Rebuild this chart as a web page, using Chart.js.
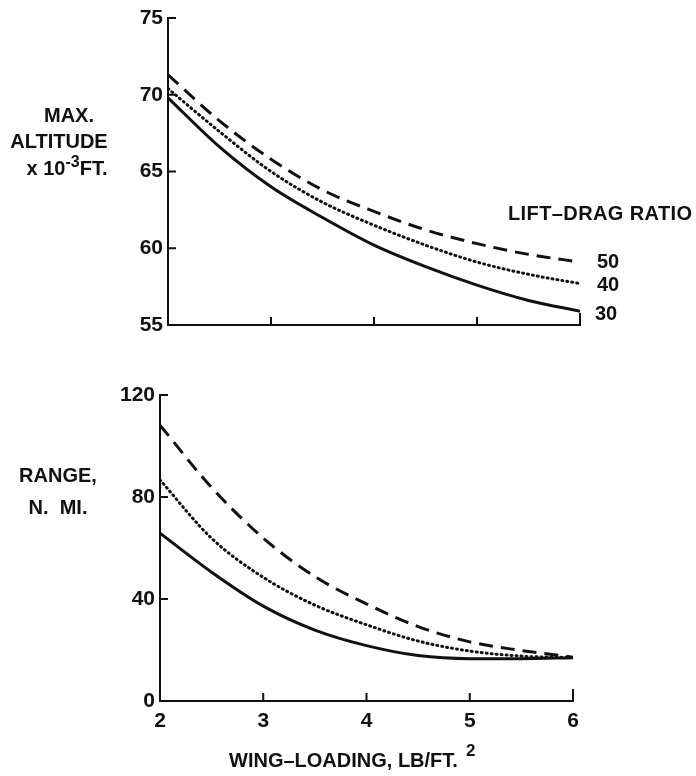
<!DOCTYPE html>
<html>
<head>
<meta charset="utf-8">
<script src="https://cdn.jsdelivr.net/npm/chart.js@4.4.1/dist/chart.umd.min.js"></script>
<style>
  body { margin: 0; background: #fff; }
  #page { position: relative; width: 696px; height: 776px; background: #fff; overflow: hidden; }
  canvas { position: absolute; left: 0; }
  .lbl { position: absolute; font-family: "Liberation Sans", Arial, sans-serif; font-weight: bold;
         font-size: 20px; color: #111; white-space: nowrap; line-height: 1; }
  .c { transform: translateX(-50%); text-align: center; }
  sup { font-size: 16px; position: relative; top: -4px; vertical-align: top; }
</style>
</head>
<body>
<div id="page">
  <canvas id="altChart" width="696" height="345" style="top:0"></canvas>
  <canvas id="rangeChart" width="696" height="431" style="top:345px"></canvas>

  <div class="lbl c" style="left:69px; top:105px">MAX.</div>
  <div class="lbl c" style="left:59px; top:131px">ALTITUDE</div>
  <div class="lbl c" style="left:67px; top:158px">x 10<sup>-3</sup>FT.</div>

  <div class="lbl" style="left:508px; top:203px; letter-spacing:0.4px">LIFT&#8211;DRAG RATIO</div>
  <div class="lbl" style="left:597px; top:251px">50</div>
  <div class="lbl" style="left:597px; top:274px">40</div>
  <div class="lbl" style="left:595px; top:303px">30</div>

  <div class="lbl c" style="left:58px; top:465px">RANGE,</div>
  <div class="lbl c" style="left:58px; top:497px">N.&nbsp; MI.</div>

  <div class="lbl" style="left:229px; top:750px">WING&#8211;LOADING, LB/FT.</div>
  <div class="lbl" style="left:466px; top:742px; font-size:17px">2</div>
</div>

<script>
// wing loading, lb/ft^2
var wingLoading = [2, 2.5, 3, 3.5, 4, 4.5, 5, 5.5, 6];

// max altitude x 10^-3 ft, by lift-drag ratio
var altLD50 = [71.3, 68.3, 65.8, 63.8, 62.4, 61.2, 60.3, 59.6, 59.1];
var altLD40 = [70.4, 67.6, 65.0, 63.0, 61.5, 60.2, 59.1, 58.3, 57.7];
var altLD30 = [69.8, 66.6, 64.0, 62.0, 60.2, 58.8, 57.6, 56.6, 55.9];

// range, n. mi., by lift-drag ratio
var rangeLD50 = [108.2, 83.7, 63.9, 48.8, 38.1, 29.2, 23.2, 19.8, 17.2];
var rangeLD40 = [86.7, 63.8, 48.5, 37.6, 29.9, 23.5, 19.6, 17.6, 17.0];
var rangeLD30 = [65.8, 50.5, 37.2, 27.8, 21.7, 17.8, 16.6, 16.6, 17.0];

var xTicks = [2, 3, 4, 5, 6];
var altTicks = [55, 60, 65, 70, 75];
var rangeTicks = [0, 40, 80, 120];

var tickFont = { family: "Liberation Sans", size: 21, weight: "bold" };

function pts(ys) {
  return wingLoading.map(function (x, i) { return { x: x, y: ys[i] }; });
}

function lineSet(label, ys, dash, width) {
  return {
    label: label,
    data: pts(ys),
    borderColor: "#111",
    borderWidth: width,
    borderDash: dash,
    borderCapStyle: dash.length && dash[0] < 4 ? "round" : "butt",
    pointRadius: 0,
    fill: false,
    cubicInterpolationMode: "monotone",
  };
}

// short tick marks pointing into the plot from both axes
var innerTicks = {
  id: "innerTicks",
  afterDraw: function (chart) {
    var c = chart.ctx, xs = chart.scales.x, ys = chart.scales.y, a = chart.chartArea;
    c.save();
    c.strokeStyle = "#111";
    c.lineWidth = 2;
    xs.ticks.forEach(function (t, i) {
      if (i === 0) return;
      var px = xs.getPixelForValue(t.value);
      c.beginPath();
      c.moveTo(px, a.bottom);
      c.lineTo(px, a.bottom - (i === xs.ticks.length - 1 ? 12 : 8));
      c.stroke();
    });
    ys.ticks.forEach(function (t, i) {
      if (i === 0) return;
      var py = ys.getPixelForValue(t.value);
      c.beginPath();
      c.moveTo(a.left, py);
      c.lineTo(a.left + 8, py);
      c.stroke();
    });
    c.restore();
  },
};

function makeChart(id, sets, yTicks, pad, yWidth, xHeight, showX) {
  return new Chart(document.getElementById(id), {
    type: "line",
    data: { datasets: sets },
    plugins: [innerTicks],
    options: {
      responsive: false,
      animation: false,
      layout: { padding: pad },
      plugins: { legend: { display: false }, tooltip: { enabled: false } },
      scales: {
        x: {
          type: "linear",
          min: 2,
          max: 6,
          afterBuildTicks: function (s) { s.ticks = xTicks.map(function (v) { return { value: v }; }); },
          afterFit: function (s) { s.height = xHeight; },
          border: { display: true, color: "#111", width: 2 },
          grid: { display: true, drawOnChartArea: false, drawTicks: false },
          ticks: { display: showX, color: "#111", font: tickFont, padding: 8 },
        },
        y: {
          min: yTicks[0],
          max: yTicks[yTicks.length - 1],
          afterBuildTicks: function (s) { s.ticks = yTicks.map(function (v) { return { value: v }; }); },
          afterFit: function (s) { s.width = yWidth; },
          border: { display: true, color: "#111", width: 2 },
          grid: { display: true, drawOnChartArea: false, drawTicks: false },
          ticks: { color: "#111", font: tickFont, padding: 5 },
        },
      },
    },
  });
}

makeChart("altChart", [
  lineSet("50", altLD50, [14, 8], 3),
  lineSet("40", altLD40, [1, 4], 3),
  lineSet("30", altLD30, [], 3),
], altTicks, { left: 0, right: 116, top: 18, bottom: 0 }, 168, 20, false);

makeChart("rangeChart", [
  lineSet("50", rangeLD50, [14, 8], 3),
  lineSet("40", rangeLD40, [1, 4], 3),
  lineSet("30", rangeLD30, [], 3),
], rangeTicks, { left: 0, right: 123, top: 50, bottom: 0 }, 160, 75, true);
</script>
</body>
</html>
